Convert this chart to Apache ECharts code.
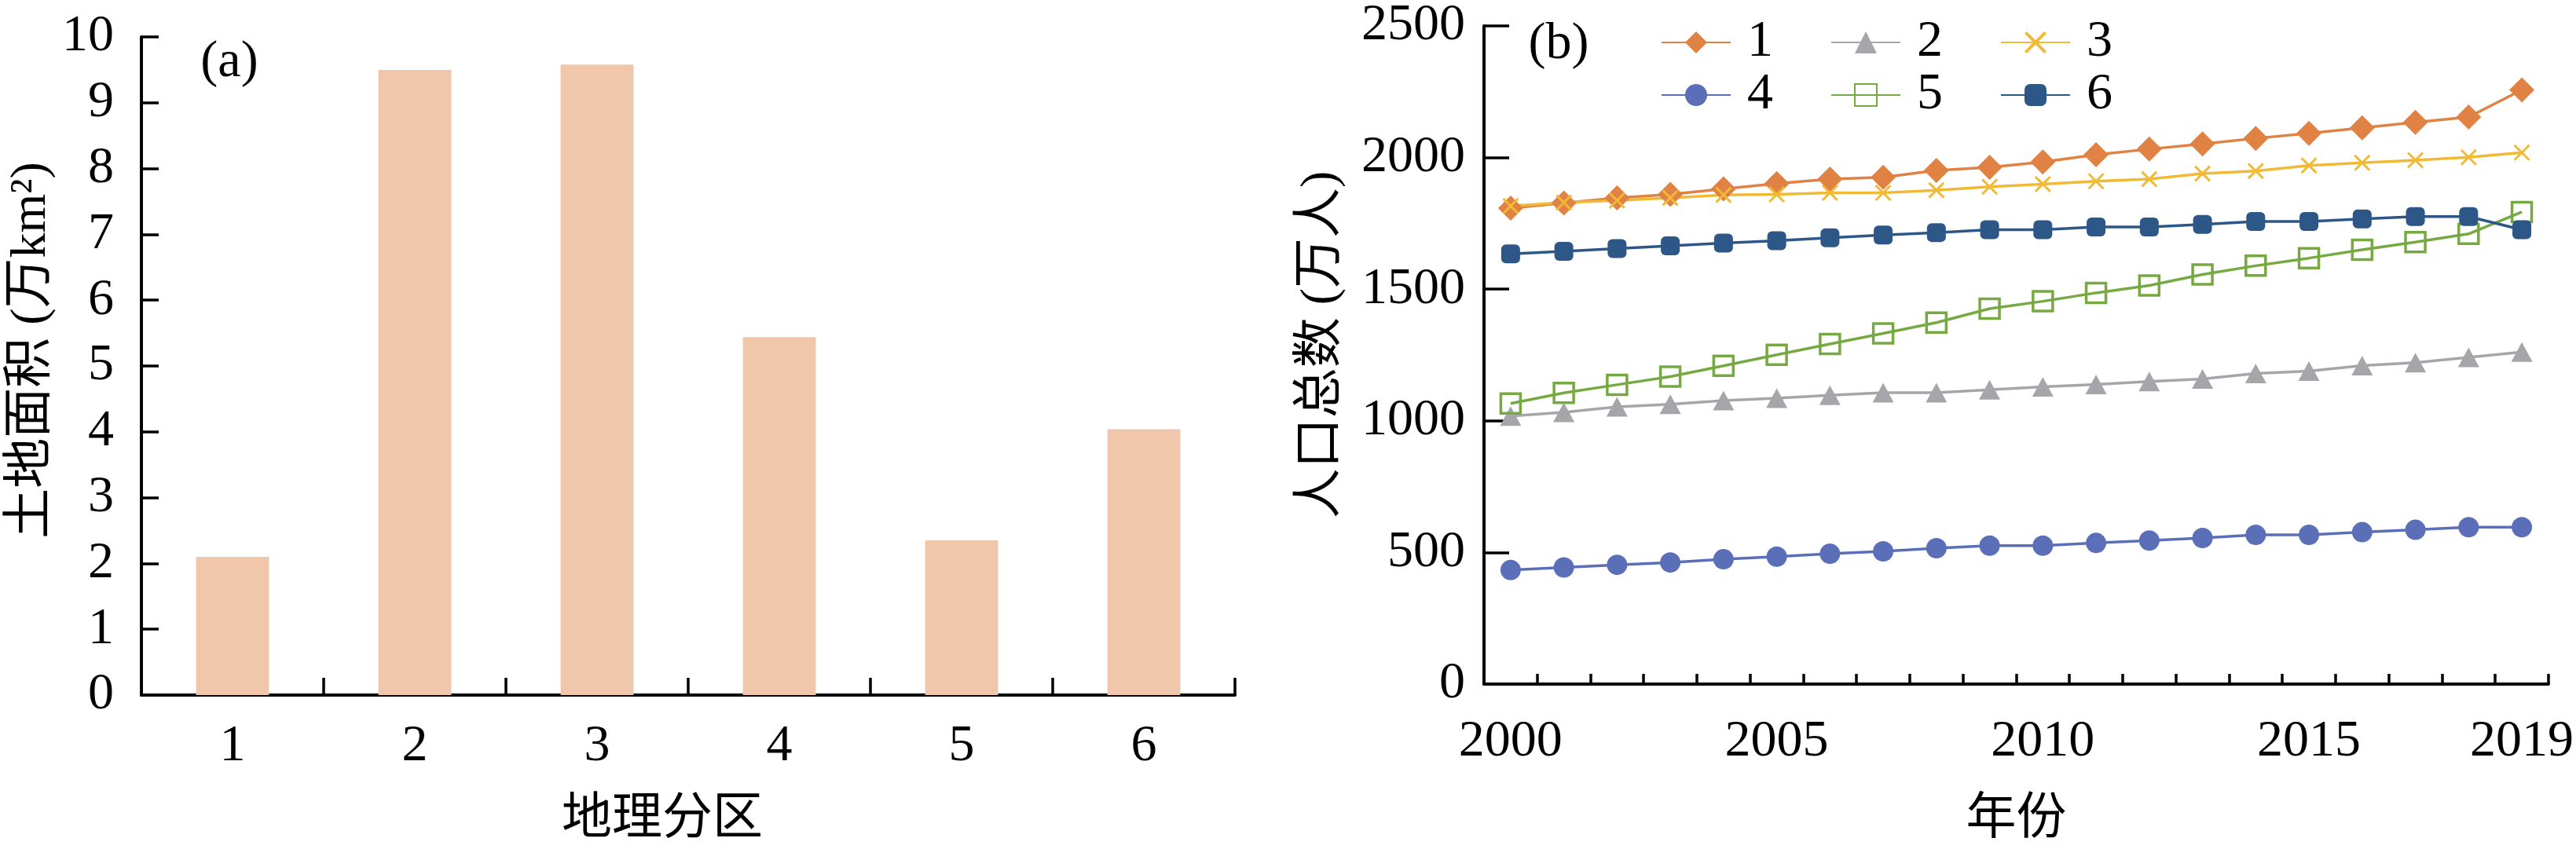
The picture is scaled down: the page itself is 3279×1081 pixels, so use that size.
<!DOCTYPE html>
<html>
<head>
<meta charset="utf-8">
<script src="https://cdn.jsdelivr.net/npm/echarts@6/dist/echarts.min.js"></script>
<style>
html,body{margin:0;padding:0;background:#fff;}
#c{width:3279px;height:1081px;}
</style>
</head>
<body>
<div id="c"></div>
<script>
// ---- data ----
const regions = ['1', '2', '3', '4', '5', '6'];
const landArea = [2.10, 9.50, 9.58, 5.44, 2.35, 4.04];

const years = ['2000','2001','2002','2003','2004','2005','2006','2007','2008','2009',
               '2010','2011','2012','2013','2014','2015','2016','2017','2018','2019'];
const pop1 = [1808,1827,1847,1860,1881,1901,1918,1925,1951,1963,1983,2011,2032,2052,2073,2092,2113,2134,2154,2257];
const pop2 = [1018,1032,1053,1063,1077,1086,1097,1107,1107,1118,1129,1138,1149,1159,1180,1189,1210,1221,1241,1261];
const pop3 = [1816,1829,1837,1847,1858,1860,1866,1866,1876,1889,1899,1910,1918,1939,1949,1970,1980,1990,2001,2019];
const pop4 = [433,443,453,462,474,484,495,504,516,526,526,536,545,555,567,567,577,586,596,596];
const pop5 = [1066,1106,1137,1168,1209,1251,1292,1332,1373,1426,1454,1486,1514,1556,1589,1618,1650,1679,1710,1793];
const pop6 = [1634,1644,1654,1665,1675,1684,1695,1706,1715,1726,1726,1736,1736,1746,1757,1757,1767,1776,1776,1726];

const yTicksLeft = {min: 0, max: 10, interval: 1};
const yTicksRight = {min: 0, max: 2500, interval: 500};
const xLabelIdx = [0, 5, 10, 15, 19];

// ---- style ----
const FONT = "'Liberation Serif', 'Times New Roman', 'Noto Sans CJK SC', serif";
const FS = 66;
const black = '#000';
const C1 = '#E08244', C2 = '#A6A5AA', C3 = '#F1BA36', C4 = '#5B6FB8', C5 = '#77A943', C6 = '#2D5786';
const crossPath = 'path://M0,1L1,0L5,4L9,0L10,1L6,5L10,9L9,10L5,6L1,10L0,9L4,5Z';

const chart = echarts.init(document.getElementById('c'), null, {renderer: 'canvas'});

function lineSeries(name, data, color, symbol, size, extraItem) {
  return {
    name: name, type: 'line', xAxisIndex: 1, yAxisIndex: 1, data: data,
    symbol: symbol, symbolSize: size,
    lineStyle: {color: color, width: 3.5},
    itemStyle: Object.assign({color: color}, extraItem || {}),
    emphasis: {disabled: true}
  };
}

const legendCommon = {
  orient: 'horizontal', itemWidth: 88, itemHeight: 35, itemGap: 73, padding: 0,
  selectedMode: false,
  textStyle: {fontSize: FS, fontFamily: FONT, color: black, padding: [0, 0, 0, 16]}
};

const option = {
  animation: false,
  backgroundColor: '#fff',
  textStyle: {fontFamily: FONT},
  grid: [
    {left: 180, top: 47, width: 1392, height: 842},
    {left: 1889, top: 19, width: 1357, height: 855}
  ],
  legend: [
    Object.assign({data: ['1', '2', '3'], left: 2114, top: 21}, legendCommon),
    Object.assign({data: ['4', '5', '6'], left: 2114, top: 88}, legendCommon)
  ],
  graphic: [
    {type: 'text', x: 292, y: 80, style: {text: '(a)', fontSize: FS, fontFamily: FONT, fill: black, align: 'center', verticalAlign: 'middle'}},
    {type: 'text', x: 1984, y: 57, style: {text: '(b)', fontSize: FS, fontFamily: FONT, fill: black, align: 'center', verticalAlign: 'middle'}}
  ],
  xAxis: [
    {
      type: 'category', gridIndex: 0, data: regions, boundaryGap: true,
      axisLine: {show: true, lineStyle: {color: black, width: 4}},
      axisTick: {show: true, inside: true, length: 22, interval: 0, alignWithLabel: false, lineStyle: {color: black, width: 3.5}},
      axisLabel: {fontSize: FS, color: black, fontFamily: FONT, margin: 33},
      name: '地理分区', nameLocation: 'middle', nameGap: 127,
      nameTextStyle: {fontSize: 64, color: black, fontFamily: FONT, padding: [0, 66, 0, 0]},
      splitLine: {show: false}
    },
    {
      type: 'category', gridIndex: 1, data: years, boundaryGap: true,
      axisLine: {show: true, lineStyle: {color: black, width: 4}},
      axisTick: {show: true, inside: true, length: 13, interval: 0, alignWithLabel: false, lineStyle: {color: black, width: 3.5}},
      axisLabel: {
        fontSize: FS, color: black, fontFamily: FONT, margin: 41,
        interval: function (idx) { return xLabelIdx.indexOf(idx) >= 0; }
      },
      name: '年份', nameLocation: 'middle', nameGap: 141,
      nameTextStyle: {fontSize: 64, color: black, fontFamily: FONT},
      splitLine: {show: false}
    }
  ],
  yAxis: [
    {
      type: 'value', gridIndex: 0, min: yTicksLeft.min, max: yTicksLeft.max, interval: yTicksLeft.interval,
      axisLine: {show: true, lineStyle: {color: black, width: 4}},
      axisTick: {show: true, inside: true, length: 22, lineStyle: {color: black, width: 3.5}},
      axisLabel: {fontSize: FS, color: black, fontFamily: FONT, margin: 35},
      splitLine: {show: false},
      name: '土地面积 (万km²)', nameLocation: 'middle', nameRotate: 90, nameGap: 108,
      nameTextStyle: {fontSize: 64, color: black, fontFamily: FONT, padding: [0, 0, 0, 40]}
    },
    {
      type: 'value', gridIndex: 1, min: yTicksRight.min, max: yTicksRight.max, interval: yTicksRight.interval,
      axisLine: {show: true, lineStyle: {color: black, width: 4}},
      axisTick: {show: true, inside: true, length: 32, lineStyle: {color: black, width: 3.5}},
      axisLabel: {fontSize: FS, color: black, fontFamily: FONT, margin: 24,
        formatter: function (v) { return String(v); }},
      splitLine: {show: false},
      name: '人口总数 (万人)', nameLocation: 'middle', nameRotate: 90, nameGap: 175,
      nameTextStyle: {fontSize: 64, color: black, fontFamily: FONT, padding: [0, 0, 0, 26]}
    }
  ],
  series: [
    {
      name: 'area', type: 'bar', xAxisIndex: 0, yAxisIndex: 0, data: landArea,
      barWidth: '40%', itemStyle: {color: '#F0C7AB'}, emphasis: {disabled: true}
    },
    lineSeries('1', pop1, C1, 'diamond', 32),
    lineSeries('2', pop2, C2, 'triangle', [27, 25]),
    lineSeries('3', pop3, C3, crossPath, 21),
    lineSeries('4', pop4, C4, 'circle', 26),
    lineSeries('5', pop5, C5, 'rect', 25, {color: 'rgba(255,255,255,0)', borderColor: C5, borderWidth: 3.5}),
    lineSeries('6', pop6, C6, 'roundRect', 24)
  ]
};
chart.setOption(option);
</script>
</body>
</html>
